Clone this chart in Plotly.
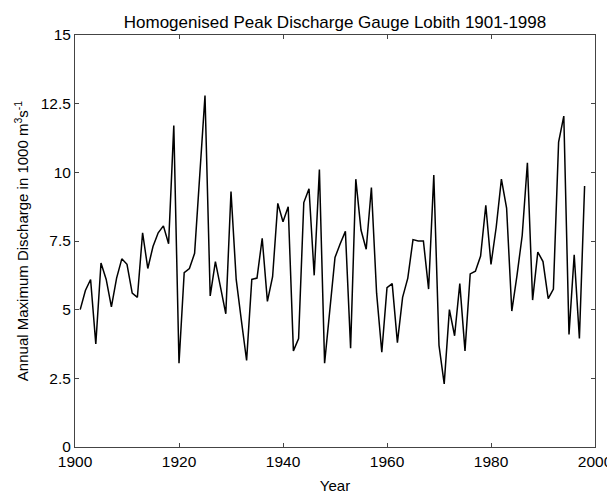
"""
Homogenised peak discharge at gauge Lobith, 1901-1998
"""

import plotly.graph_objects as go

# Years 1901..1998
years = list(range(1901, 1999))

# Annual maximum discharge (1000 m3/s)
discharge = [
    5.0, 5.7, 6.1, 3.75, 6.7, 6.1, 5.1, 6.15, 6.85, 6.65,      # 1901-1910
    5.6, 5.45, 7.8, 6.5, 7.3, 7.8, 8.05, 7.4, 11.7, 3.05,      # 1911-1920
    6.35, 6.5, 7.05, 10.1, 12.8, 5.5, 6.75, 5.8, 4.85, 9.3,    # 1921-1930
    6.1, 4.6, 3.15, 6.1, 6.15, 7.6, 5.3, 6.2, 8.87, 8.2,       # 1931-1940
    8.75, 3.5, 3.95, 8.9, 9.4, 6.25, 10.1, 3.05, 5.0, 6.9,     # 1941-1950
    7.4, 7.85, 3.6, 9.75, 7.9, 7.2, 9.45, 5.6, 3.45, 5.8,      # 1951-1960
    5.95, 3.8, 5.45, 6.15, 7.55, 7.5, 7.5, 5.75, 9.9, 3.7,     # 1961-1970
    2.3, 5.0, 4.05, 5.95, 3.5, 6.3, 6.4, 6.95, 8.8, 6.65,      # 1971-1980
    8.0, 9.75, 8.7, 4.95, 6.25, 7.7, 10.35, 5.35, 7.1, 6.75,   # 1981-1990
    5.4, 5.75, 11.1, 12.05, 4.1, 7.0, 3.95, 9.5,               # 1991-1998
]

x_ticks = [1900, 1920, 1940, 1960, 1980, 2000]
y_ticks = [0, 2.5, 5, 7.5, 10, 12.5, 15]

fig = go.Figure()

fig.add_trace(go.Scatter(
    x=years,
    y=discharge,
    mode='lines',
    line=dict(color='black', width=1.5),
    showlegend=False,
))

axis_style = dict(
    showgrid=False,
    zeroline=False,
    showline=True,
    linecolor='#444444',
    linewidth=1,
    mirror='ticks',
    ticks='inside',
    ticklen=4,
    tickcolor='#444444',
    tickfont=dict(size=15.5, color='black'),
    automargin=False,
)

# the page body adds an 8px offset, so the figure is a bit smaller
fig.update_layout(
    width=607,
    height=488,
    margin=dict(l=67, r=20, t=27, b=49),
    paper_bgcolor='white',
    plot_bgcolor='white',
    font=dict(family='Liberation Sans, Arial, sans-serif', color='black'),
    title=dict(
        text='Homogenised Peak Discharge Gauge Lobith 1901-1998',
        font=dict(size=17),
        x=0.5,
        xref='paper',
        xanchor='center',
        y=0.971,
        yanchor='middle',
    ),
    xaxis=dict(
        axis_style,
        range=[1900, 2000],
        tickvals=x_ticks,
        title=dict(text='Year', font=dict(size=15), standoff=11),
    ),
    yaxis=dict(
        axis_style,
        range=[0, 15],
        tickvals=y_ticks,
        ticktext=[f'{v:g}' for v in y_ticks],
        title=dict(
            text='Annual Maximum Discharge in 1000 m<sup>3</sup>s<sup>-1</sup>',
            font=dict(size=15),
            standoff=8,
        ),
    ),
)

fig.write_html("out.html")
